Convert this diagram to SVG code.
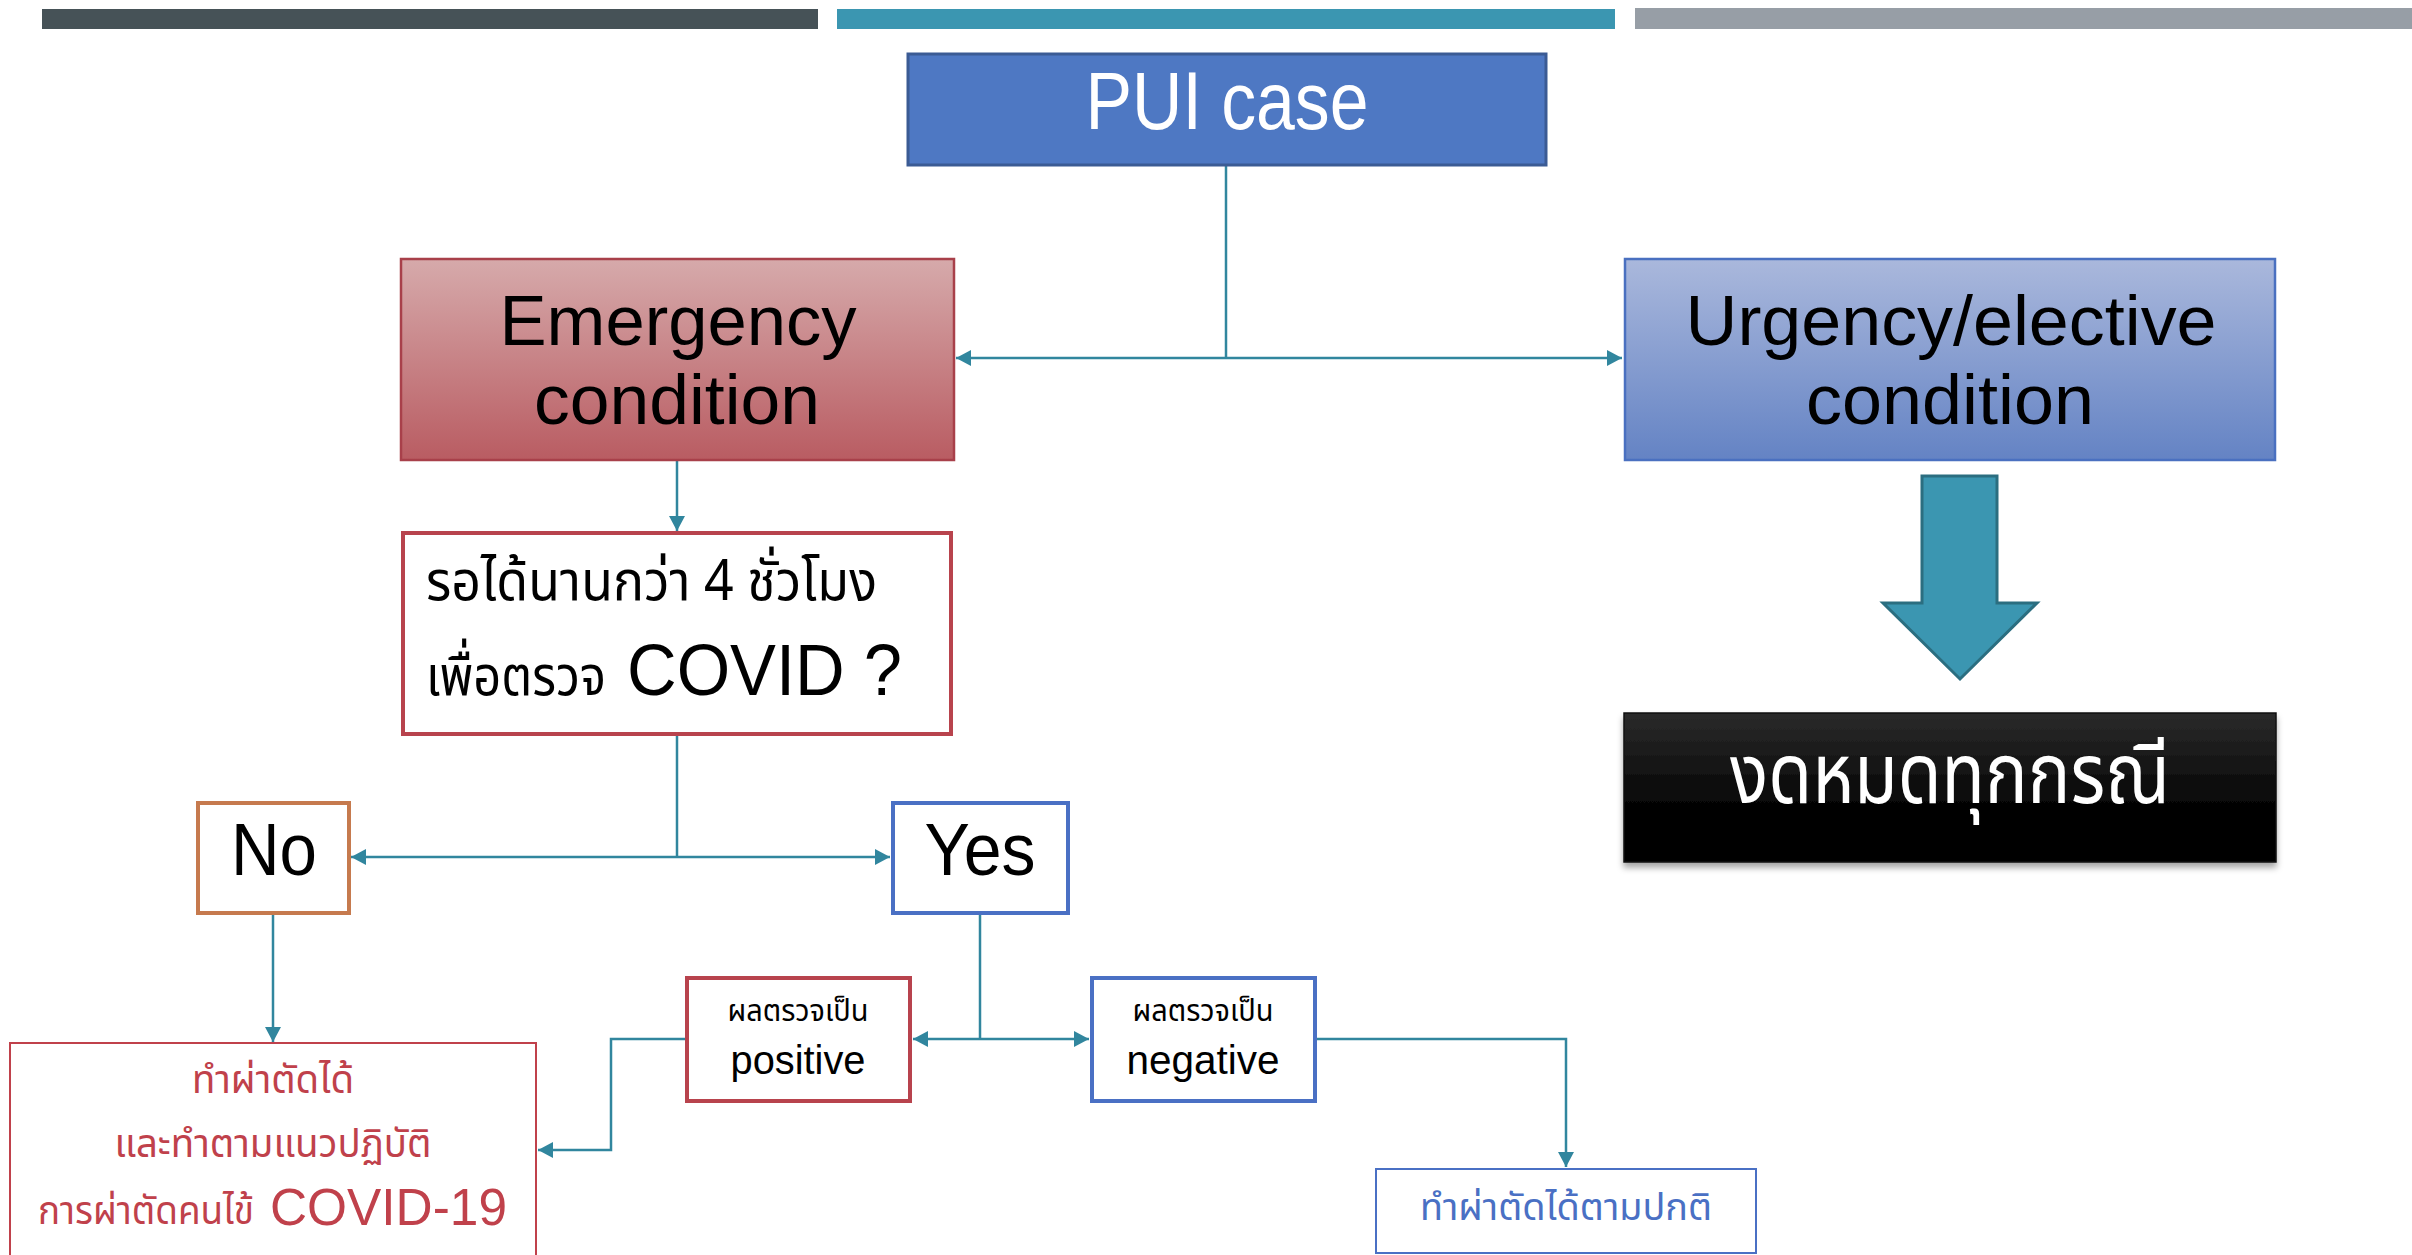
<svg xmlns="http://www.w3.org/2000/svg" width="2412" height="1255" viewBox="0 0 2412 1255">
<defs>
<style>
.conn{fill:none;stroke:#31869e;stroke-width:2.5}
.lat{font-family:"Liberation Sans","Noto Sans",sans-serif}
.thai{font-family:"Noto Sans Thai","Noto Sans","DejaVu Sans",sans-serif}
</style>
<linearGradient id="gRed" x1="0" y1="0" x2="0" y2="1"><stop offset="0" stop-color="#d6aaab"/><stop offset="1" stop-color="#b95c62"/></linearGradient>
<linearGradient id="gBlue" x1="0" y1="0" x2="0" y2="1"><stop offset="0" stop-color="#aab8dc"/><stop offset="1" stop-color="#6483c4"/></linearGradient>
<linearGradient id="gBlack" x1="0" y1="0" x2="0" y2="1"><stop offset="0" stop-color="#2b2b2b"/><stop offset="0.7" stop-color="#000"/><stop offset="1" stop-color="#000"/></linearGradient>
<filter id="sh" x="-5%" y="-10%" width="110%" height="130%"><feDropShadow dx="0" dy="5" stdDeviation="3" flood-color="#000" flood-opacity="0.35"/></filter>
<marker id="arr" markerUnits="userSpaceOnUse" markerWidth="16" markerHeight="16" refX="15" refY="8" orient="auto-start-reverse"><path d="M0,0 L15,8 L0,16 Z" fill="#31869e"/></marker>
</defs>
<rect width="2412" height="1255" fill="#fff"/>
<g id="topbars">
<rect x="42" y="9" width="776" height="20" fill="#465257"/>
<rect x="837" y="9" width="778" height="20" fill="#3b96b1"/>
<rect x="1635" y="8" width="777" height="21" fill="#979ea6"/>
</g>
<g id="connectors">
<path class="conn" d="M1226,166 V358" />
<path class="conn" d="M956,358 H1622" marker-start="url(#arr)" marker-end="url(#arr)"/>
<path class="conn" d="M677,461 V531" marker-end="url(#arr)"/>
<path class="conn" d="M677,735 V857" />
<path class="conn" d="M351,857 H890" marker-start="url(#arr)" marker-end="url(#arr)"/>
<path class="conn" d="M273,914 V1042" marker-end="url(#arr)"/>
<path class="conn" d="M980,914 V1039" />
<path class="conn" d="M913,1039 H1089" marker-start="url(#arr)" marker-end="url(#arr)"/>
<path class="conn" d="M686,1039 H611 V1150 H538" marker-end="url(#arr)"/>
<path class="conn" d="M1316,1039 H1566 V1167" marker-end="url(#arr)"/>
</g>
<g id="pui">
<rect x="908" y="54" width="638" height="111" fill="#4e78c3" stroke="#3b5b94" stroke-width="3"/>
<text class="lat" x="1227" y="129" font-size="82" fill="#fff" text-anchor="middle" textLength="283" lengthAdjust="spacingAndGlyphs">PUI case</text>
</g>
<g id="emergency">
<rect x="401" y="259" width="553" height="201" fill="url(#gRed)" stroke="#a8404a" stroke-width="2.5"/>
<text class="lat" x="678" y="345" font-size="70" fill="#000" text-anchor="middle" textLength="357" lengthAdjust="spacingAndGlyphs">Emergency</text>
<text class="lat" x="677" y="424" font-size="70" fill="#000" text-anchor="middle" textLength="286" lengthAdjust="spacingAndGlyphs">condition</text>
</g>
<g id="urgency">
<rect x="1625" y="259" width="650" height="201" fill="url(#gBlue)" stroke="#4a70c0" stroke-width="2.5"/>
<text class="lat" x="1951" y="345" font-size="70" fill="#000" text-anchor="middle" textLength="531" lengthAdjust="spacingAndGlyphs">Urgency/elective</text>
<text class="lat" x="1950" y="424" font-size="70" fill="#000" text-anchor="middle" textLength="288" lengthAdjust="spacingAndGlyphs">condition</text>
</g>
<g id="bigarrow">
<path d="M1922,476 H1997 V603 H2037 L1960,679 L1883,603 H1922 Z" fill="#3b96b1" stroke="#2b6e80" stroke-width="3"/>
</g>
<g id="cancel">
<rect x="1624" y="713" width="652" height="149" fill="url(#gBlack)" stroke="#111" stroke-width="1.5" filter="url(#sh)"/>
<text class="thai" x="1950" y="803" font-size="84" fill="#fff" text-anchor="middle" textLength="440" lengthAdjust="spacingAndGlyphs">งดหมดทุกกรณี</text>
</g>
<g id="question">
<rect x="403" y="533" width="548" height="201" fill="#fff" stroke="#b8434d" stroke-width="4"/>
<text class="thai" x="426" y="600" font-size="56" fill="#000" textLength="451" lengthAdjust="spacingAndGlyphs">รอได้นานกว่า 4 ชั่วโมง</text>
<text class="thai" x="426" y="695" font-size="56" fill="#000" textLength="180" lengthAdjust="spacingAndGlyphs">เพื่อตรวจ</text>
<text class="lat" x="627" y="695" font-size="73" fill="#000" textLength="275" lengthAdjust="spacingAndGlyphs">COVID ?</text>
</g>
<g id="no">
<rect x="198" y="803" width="151" height="110" fill="#fff" stroke="#c67a4e" stroke-width="4"/>
<text class="lat" x="274" y="875" font-size="74" fill="#000" text-anchor="middle" textLength="86" lengthAdjust="spacingAndGlyphs">No</text>
</g>
<g id="yes">
<rect x="893" y="803" width="175" height="110" fill="#fff" stroke="#4a70c4" stroke-width="4"/>
<text class="lat" x="980" y="875" font-size="74" fill="#000" text-anchor="middle" textLength="111" lengthAdjust="spacingAndGlyphs">Yes</text>
</g>
<g id="positive">
<rect x="687" y="978" width="223" height="123" fill="#fff" stroke="#b8434d" stroke-width="4"/>
<text class="thai" x="798" y="1021" font-size="30" fill="#000" text-anchor="middle" textLength="141" lengthAdjust="spacingAndGlyphs">ผลตรวจเป็น</text>
<text class="lat" x="798" y="1074" font-size="40" fill="#000" text-anchor="middle" textLength="135" lengthAdjust="spacingAndGlyphs">positive</text>
</g>
<g id="negative">
<rect x="1092" y="978" width="223" height="123" fill="#fff" stroke="#4a70c4" stroke-width="4"/>
<text class="thai" x="1203" y="1021" font-size="30" fill="#000" text-anchor="middle" textLength="141" lengthAdjust="spacingAndGlyphs">ผลตรวจเป็น</text>
<text class="lat" x="1203" y="1074" font-size="40" fill="#000" text-anchor="middle" textLength="153" lengthAdjust="spacingAndGlyphs">negative</text>
</g>
<g id="covidcare">
<rect x="10" y="1043" width="526" height="230" fill="#fff" stroke="#c0414b" stroke-width="2"/>
<text class="thai" x="273" y="1093" font-size="40" fill="#c0414b" text-anchor="middle" textLength="162" lengthAdjust="spacingAndGlyphs">ทำผ่าตัดได้</text>
<text class="thai" x="273" y="1157" font-size="40" fill="#c0414b" text-anchor="middle" textLength="317" lengthAdjust="spacingAndGlyphs">และทำตามแนวปฏิบัติ</text>
<text class="thai" x="38" y="1224" font-size="40" fill="#c0414b" textLength="216" lengthAdjust="spacingAndGlyphs">การผ่าตัดคนไข้</text>
<text class="lat" x="270" y="1225" font-size="52" fill="#c0414b" textLength="237" lengthAdjust="spacingAndGlyphs">COVID-19</text>
</g>
<g id="normal">
<rect x="1376" y="1169" width="380" height="84" fill="#fff" stroke="#4a70c4" stroke-width="2"/>
<text class="thai" x="1566" y="1220" font-size="38" fill="#4a70c4" text-anchor="middle" textLength="292" lengthAdjust="spacingAndGlyphs">ทำผ่าตัดได้ตามปกติ</text>
</g>
</svg>
